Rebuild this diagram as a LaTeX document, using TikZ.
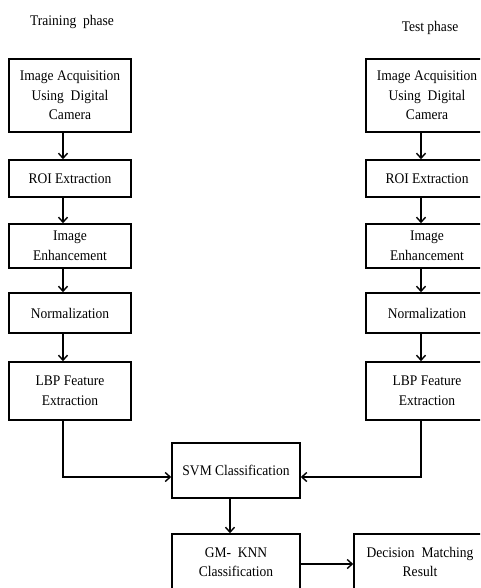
\documentclass[tikz,border=0pt]{standalone}
\usepackage{fontspec}
\setmainfont{Liberation Serif}[FakeStretch=0.92]
\usetikzlibrary{arrows.meta}
\begin{document}
\begin{tikzpicture}[x=1pt,y=-1pt,
  box/.style={draw=black,line width=1.5pt,rectangle,inner sep=0pt,align=center,
    font=\fontsize{14.7}{19.5}\selectfont},
  ttl/.style={inner sep=0pt,font=\fontsize{14.7}{19.5}\selectfont},
  arr/.style={draw=black,line width=1.4pt,-{Straight Barb[length=5pt,width=9pt,line width=1.4pt]}}]
\useasboundingbox (0,0) rectangle (480,588);
\clip (0,0) rectangle (480,588);
% column references
\coordinate (L) at (63,0);
\coordinate (R) at (421,0);
\coordinate (M) at (230,0);
\coordinate (Y) at (0,477);
\coordinate (Yb) at (0,564);
% titles
\node[ttl] (t1) at (72,22) {Training\ \ phase};
\node[ttl] (t2) at (430,28) {Test phase};
% left column
\node[box,minimum width=122,minimum height=73] (a1) at (70,95.5) {Image Acquisition\\Using\ \ Digital\\Camera};
\node[box,minimum width=122,minimum height=37] (a2) at (70,178.5) {ROI Extraction};
\node[box,minimum width=122,minimum height=44] (a3) at (70,246) {Image\\Enhancement};
\node[box,minimum width=122,minimum height=40] (a4) at (70,313) {Normalization};
\node[box,minimum width=122,minimum height=58] (a5) at (70,391) {LBP Feature\\Extraction};
% right column
\node[box,minimum width=122,minimum height=73] (b1) at (427,95.5) {Image Acquisition\\Using\ \ Digital\\Camera};
\node[box,minimum width=122,minimum height=37] (b2) at (427,178.5) {ROI Extraction};
\node[box,minimum width=122,minimum height=44] (b3) at (427,246) {Image\\Enhancement};
\node[box,minimum width=122,minimum height=40] (b4) at (427,313) {Normalization};
\node[box,minimum width=122,minimum height=58] (b5) at (427,391) {LBP Feature\\Extraction};
% bottom
\node[box,minimum width=128,minimum height=55] (svm) at (236,470.5) {SVM Classification};
\node[box,minimum width=128,minimum height=56] (gm) at (236,562) {GM-\ \ KNN\\Classification};
\node[box,minimum width=132,minimum height=56] (dm) at (420,562) {Decision\ \ Matching\\Result};
% arrows left
\draw[arr] (a1.south -| L) -- (a2.north -| L);
\draw[arr] (a2.south -| L) -- (a3.north -| L);
\draw[arr] (a3.south -| L) -- (a4.north -| L);
\draw[arr] (a4.south -| L) -- (a5.north -| L);
% arrows right
\draw[arr] (b1.south -| R) -- (b2.north -| R);
\draw[arr] (b2.south -| R) -- (b3.north -| R);
\draw[arr] (b3.south -| R) -- (b4.north -| R);
\draw[arr] (b4.south -| R) -- (b5.north -| R);
% to SVM
\draw[arr] (a5.south -| L) |- (svm.west |- Y);
\draw[arr] (b5.south -| R) |- (svm.east |- Y);
\draw[arr] (svm.south -| M) -- (gm.north -| M);
\draw[arr] (gm.east |- Yb) -- (dm.west |- Yb);
\end{tikzpicture}
\end{document}
